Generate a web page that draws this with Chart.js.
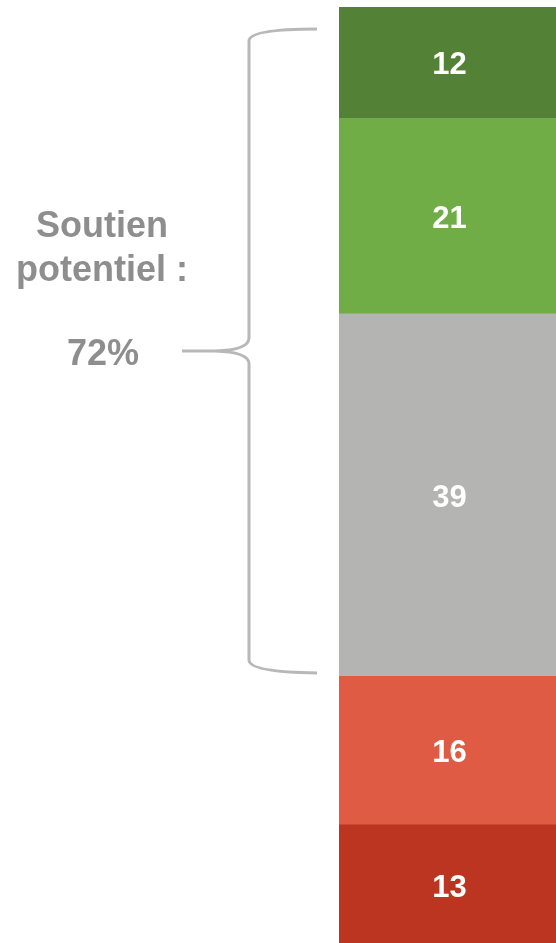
<!DOCTYPE html>
<html>
<head>
<meta charset="utf-8">
<script src="https://cdn.jsdelivr.net/npm/chart.js@4"></script>
<style>
  html, body { margin: 0; padding: 0; background: #fff; overflow: hidden; }
  canvas { display: block; }
</style>
</head>
<body>
<canvas id="myChart" width="556" height="943"></canvas>
<script>
// bottom to top
let categories = ['Soutien'];
let seriesNames = ['Très opposé', 'Plutôt opposé', 'Neutre', 'Plutôt favorable', 'Très favorable'];
let seriesValues = [13, 16, 39, 21, 12];
let seriesColors = ['#bc3520', '#e05b44', '#b4b4b2', '#70ad47', '#538135'];
let sideLabels = ['Soutien', 'potentiel :', '72%'];

// valeurs au centre de chaque segment
const labelsPlugin = {
  id: 'labelsPlugin',
  afterDatasetsDraw(chart) {
    const ctx = chart.ctx;
    ctx.save();
    ctx.fillStyle = '#ffffff';
    ctx.font = 'bold 31px "Liberation Sans", Arial, sans-serif';
    ctx.textAlign = 'center';
    ctx.textBaseline = 'middle';
    chart.data.datasets.forEach(function (ds, i) {
      const bar = chart.getDatasetMeta(i).data[0];
      ctx.fillText(String(ds.data[0]), bar.x + 2, (bar.y + bar.base) / 2 + 3);
    });
    ctx.restore();
  }
};

// accolade + texte à gauche
const bracePlugin = {
  id: 'bracePlugin',
  afterDraw(chart) {
    const ctx = chart.ctx;
    ctx.save();
    ctx.strokeStyle = '#b8b8b8';
    ctx.lineWidth = 3;
    ctx.lineCap = 'butt';
    ctx.beginPath();
    ctx.moveTo(317, 29);
    ctx.quadraticCurveTo(249, 29, 249, 41);
    ctx.lineTo(249, 338);
    ctx.quadraticCurveTo(249, 350, 215, 351);
    ctx.lineTo(182, 351);
    ctx.moveTo(215, 351);
    ctx.quadraticCurveTo(249, 352, 249, 364);
    ctx.lineTo(249, 660);
    ctx.quadraticCurveTo(249, 672, 317, 673);
    ctx.stroke();

    ctx.fillStyle = '#8e8e8e';
    ctx.font = 'bold 36px "Liberation Sans", Arial, sans-serif';
    ctx.textAlign = 'center';
    ctx.textBaseline = 'alphabetic';
    ctx.fillText(sideLabels[0], 102, 237);
    ctx.fillText(sideLabels[1], 102, 281);
    ctx.fillText(sideLabels[2], 103, 365);
    ctx.restore();
  }
};

const datasets = seriesValues.map(function (v, i) {
  return {
    label: seriesNames[i],
    data: [v],
    backgroundColor: seriesColors[i],
    borderWidth: 0,
    categoryPercentage: 1,
    barPercentage: 1
  };
});

const config = {
  type: 'bar',
  data: { labels: categories, datasets: datasets },
  options: {
    responsive: false,
    animation: false,
    layout: { padding: { left: 339, top: 7, right: 0, bottom: 0 } },
    plugins: { legend: { display: false }, tooltip: { enabled: false } },
    scales: {
      x: { stacked: true, display: false },
      y: { stacked: true, display: false, min: 0.3, max: 101 }
    }
  },
  plugins: [labelsPlugin, bracePlugin]
};

const myChart = new Chart(document.getElementById('myChart'), config);
</script>
</body>
</html>
